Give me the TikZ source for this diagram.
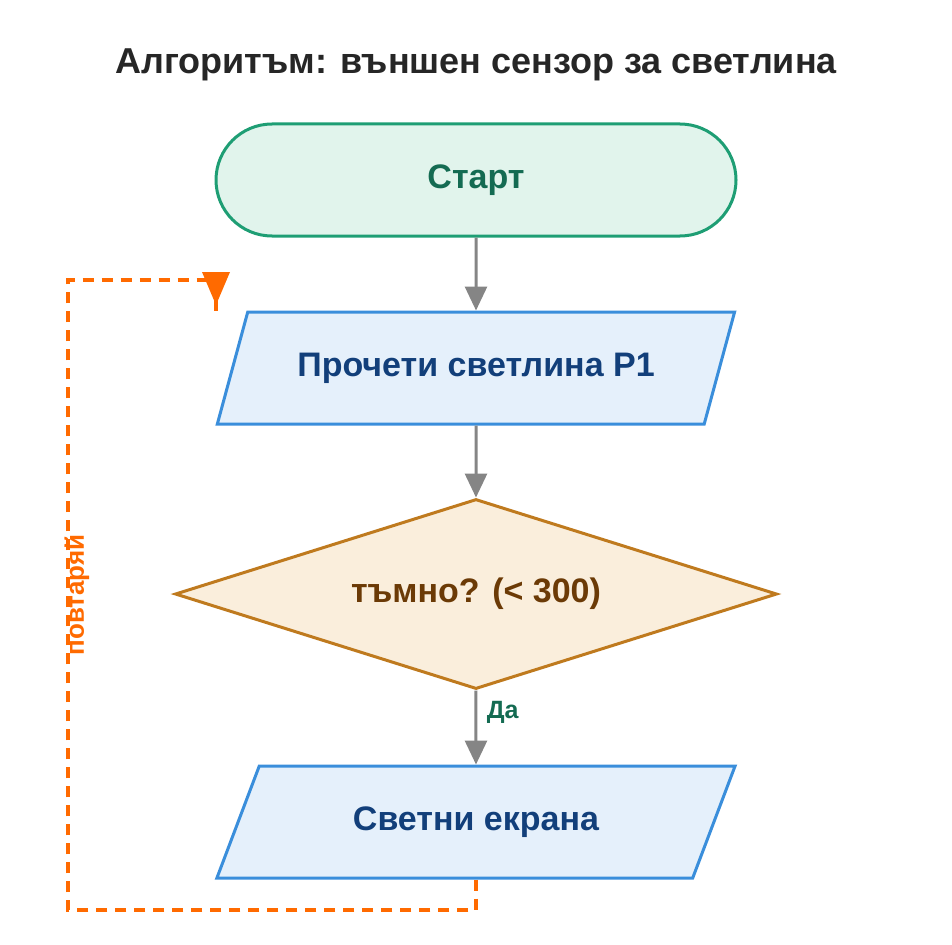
\documentclass[tikz,border=0pt]{standalone}
\usepackage{fontspec}
\setmainfont{Liberation Sans}
\usetikzlibrary{shapes.geometric,positioning,arrows.meta}
\definecolor{termfill}{HTML}{E1F4EC}
\definecolor{termline}{HTML}{1E9E74}
\definecolor{termtext}{HTML}{146B52}
\definecolor{iofill}{HTML}{E5F0FB}
\definecolor{ioline}{HTML}{3A8EDB}
\definecolor{iotext}{HTML}{123F7A}
\definecolor{decfill}{HTML}{FAEEDC}
\definecolor{decline}{HTML}{BF7A1E}
\definecolor{dectext}{HTML}{6B3A06}
\definecolor{loopc}{HTML}{FF6A00}
\definecolor{flowc}{HTML}{858585}
\begin{document}
\begin{tikzpicture}[x=1pt,y=1pt]
		\tikzstyle{box} = [draw, line width=3pt, font={\bfseries\fontsize{34}{40}\selectfont}, inner sep=0pt]
		\tikzstyle{term} = [box, fill=termfill, draw=termline, text=termtext, rectangle, rounded corners=56pt, minimum width=520pt, minimum height=112pt]
		\tikzstyle{io} = [box, fill=iofill, draw=ioline, text=iotext, trapezium, trapezium left angle=52, trapezium right angle=128, trapezium stretches=true, minimum width=520pt, minimum height=112pt]
		\tikzstyle{dec} = [box, fill=decfill, draw=decline, text=dectext, diamond, aspect=3.17, minimum width=602pt, minimum height=190pt]
		\tikzstyle{flow} = [draw=flowc, line width=3pt, -{Triangle[length=24pt,width=22pt]}]
		\useasboundingbox (0,0) rectangle (952,-944);

		\node[font={\bfseries\fontsize{36}{43}\selectfont}, text=black!85] (title) at (476,-65) {Алгоритъм: външен сензор за светлина};
		\node[term] (start) at (476,-180) {Старт};
		\node[io] (read) [below=73pt of start] {Прочети светлина P1};
		\node[dec] (dark) [below=72pt of read] {тъмно? (< 300)};
		\node[io] (light) [below=74pt of dark] {Светни екрана};

		\draw[flow] (start) -- (read);
		\draw[flow] (read) -- (dark);
		\draw[flow] (dark) -- (light) node[pos=0.3, right=6pt, text=termtext, font={\bfseries\fontsize{25}{30}\selectfont}] {Да};

		\coordinate (loopA) at (476,-910);
		\coordinate (loopB) at (68,-910);
		\coordinate (loopC) at (68,-280);
		\coordinate (loopD) at (216,-280);
		\coordinate (loopE) at (216,-311);
		\draw[loopc, line width=3.5pt, dash pattern=on 11pt off 8pt] (light.south) -- (loopA) -- (loopB) -- (loopC) -- (loopD);
		\draw[loopc, line width=3.5pt] (loopD) -- (loopE);
		\fill[loopc] (202,-272) -- (230,-272) -- (216,-305) -- cycle;
		\node[rotate=90, text=loopc, font={\bfseries\fontsize{26}{31}\selectfont}] (repeat) at (77,-595) {повтаряй};
	\end{tikzpicture}
\end{document}
